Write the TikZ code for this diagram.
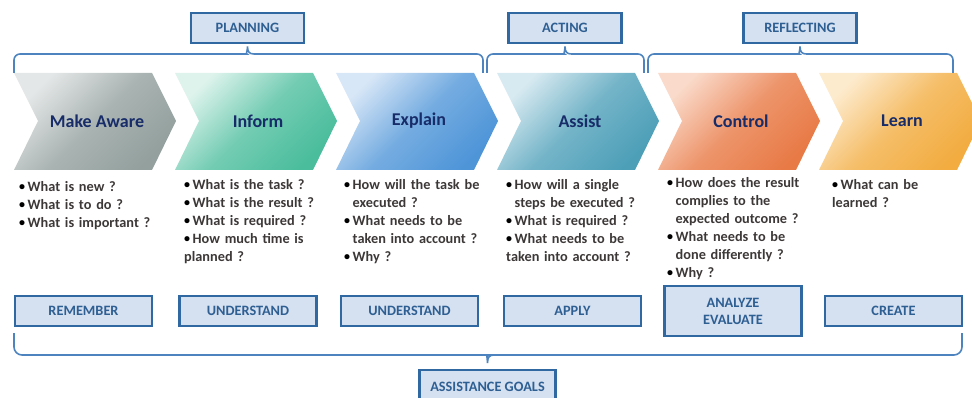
\documentclass[tikz,border=0pt]{standalone}
\usepackage{fontspec}
\setmainfont{Carlito}
\definecolor{maL}{HTML}{E4E7E7}
\definecolor{maD}{HTML}{93A09E}
\definecolor{inL}{HTML}{DDF3EC}
\definecolor{inD}{HTML}{4ABD9C}
\definecolor{exL}{HTML}{D8E7F7}
\definecolor{exD}{HTML}{4E95D8}
\definecolor{asL}{HTML}{D8EAF1}
\definecolor{asD}{HTML}{4D9FB8}
\definecolor{coL}{HTML}{FADACA}
\definecolor{coD}{HTML}{E87A46}
\definecolor{leL}{HTML}{FDEBCE}
\definecolor{leD}{HTML}{F2AC40}
\definecolor{chevtext}{HTML}{172C68}
\definecolor{qcol}{HTML}{3D3838}
\definecolor{boxfill}{HTML}{D5E0F0}
\definecolor{boxborder}{HTML}{3069A2}
\definecolor{boxtext}{HTML}{2E5F93}
\definecolor{bracecol}{HTML}{4D84C0}
\newcommand{\bi}[1]{\par\noindent\hangindent=8.5pt\hangafter=1\makebox[8.5pt][l]{\color{black}\raisebox{0.8pt}{\fontsize{12}{12}\selectfont •}}#1}
\newcommand{\nl}{\hfil\break}
\begin{document}
\begin{tikzpicture}[x=1pt,y=-1pt,
  chevlabel/.style={text=chevtext,font=\fontsize{18}{20}\selectfont\bfseries,inner sep=0},
  qtext/.style={anchor=north west,text width=175pt,align=left,inner sep=0,text=qcol,font=\fontsize{14.3}{18}\selectfont\bfseries},
  goalbox/.style={draw=boxborder,fill=boxfill,line width=2.2pt,text=boxtext,minimum width=137pt,minimum height=30pt,inner sep=0,font=\fontsize{14.3}{17}\selectfont\bfseries,align=center},
  brace/.style={draw=bracecol,line width=1.6pt}]
\useasboundingbox (0,0) rectangle (972,398);
% chevrons
\foreach \i/\lt/\dk/\txt in {0/maL/maD/Make Aware,1/inL/inD/Inform,2/exL/exD/Explain,3/asL/asD/Assist,4/coL/coD/Control,5/leL/leD/Learn}{
  \pgfmathsetmacro\xo{14+161*\i}
  \shade[top color=\lt,bottom color=\dk,middle color=\dk!72!\lt,shading angle=45] (\xo,73) -- ++(138,0) -- ++(24,48) -- ++(-24,49) -- ++(-138,0) -- ++(24,-49) -- cycle;
  \node[chevlabel] (chev\i) at (\xo+83,121) {\txt};
}
% questions
\node[qtext] (q0) at (19,173) {\bi{What is new ?}\bi{What is to do ?}\bi{What is important ?}};
\node[qtext] (q1) at (184,171) {\bi{What is the task ?}\bi{What is the result ?}\bi{What is required ?}\bi{How much time is\nl planned ?}};
\node[qtext] (q2) at (344,171) {\bi{How will the task be\nl executed ?}\bi{What needs to be\nl taken into account ?}\bi{Why ?}};
\node[qtext] (q3) at (506,171) {\bi{How will a single\nl steps be executed ?}\bi{What is required ?}\bi{What needs to be\nl taken into account ?}};
\node[qtext] (q4) at (667,169) {\bi{How does the result\nl complies to the\nl expected outcome ?}\bi{What needs to be\nl done differently ?}\bi{Why ?}};
\node[qtext] (q5) at (832,171) {\bi{What can be\nl learned ?}};
% goal boxes
\node[goalbox] (g0) at (83.5,311) {REMEMBER};
\node[goalbox] (g1) at (248,311) {UNDERSTAND};
\node[goalbox] (g2) at (409.5,311) {UNDERSTAND};
\node[goalbox] (g3) at (572.5,311) {APPLY};
\node[goalbox,minimum height=50pt] (g4) at (733,311) {ANALYZE\\EVALUATE};
\node[goalbox] (g5) at (893.5,311) {CREATE};
% phase boxes
\node[goalbox,minimum width=113pt] (plan) at (247.5,28) {PLANNING};
\node[goalbox,minimum width=113pt] (act) at (565,28) {ACTING};
\node[goalbox,minimum width=113pt] (refl) at (800,28) {REFLECTING};
\node[goalbox,minimum width=136pt,minimum height=34pt] (goals) at (487.5,387) {ASSISTANCE GOALS};
% brackets
\draw[brace] (14,73) [rounded corners=6] -- (14,54) -- (241,54) [sharp corners]
  .. controls (245.5,54) and (247.5,52) .. (247.5,46.5)
  .. controls (247.5,52) and (249.5,54) .. (254,54) [rounded corners=6] -- (483,54) -- (483,73);
\draw[brace] (487,73) [rounded corners=6] -- (487,54) -- (558.5,54) [sharp corners]
  .. controls (563,54) and (565,52) .. (565,46.5)
  .. controls (565,52) and (567,54) .. (571.5,54) [rounded corners=6] -- (644,54) -- (644,73);
\draw[brace] (648,73) [rounded corners=6] -- (648,54) -- (793.5,54) [sharp corners]
  .. controls (798,54) and (800,52) .. (800,46.5)
  .. controls (800,52) and (802,54) .. (806.5,54) [rounded corners=6] -- (953,54) -- (953,73);
\draw[brace] (14,333) [rounded corners=8] -- (14,355) -- (481,355) [sharp corners]
  .. controls (485.5,355) and (487.5,357) .. (487.5,363)
  .. controls (487.5,357) and (489.5,355) .. (494,355) [rounded corners=8] -- (962,355) -- (962,333);
\end{tikzpicture}
\end{document}
